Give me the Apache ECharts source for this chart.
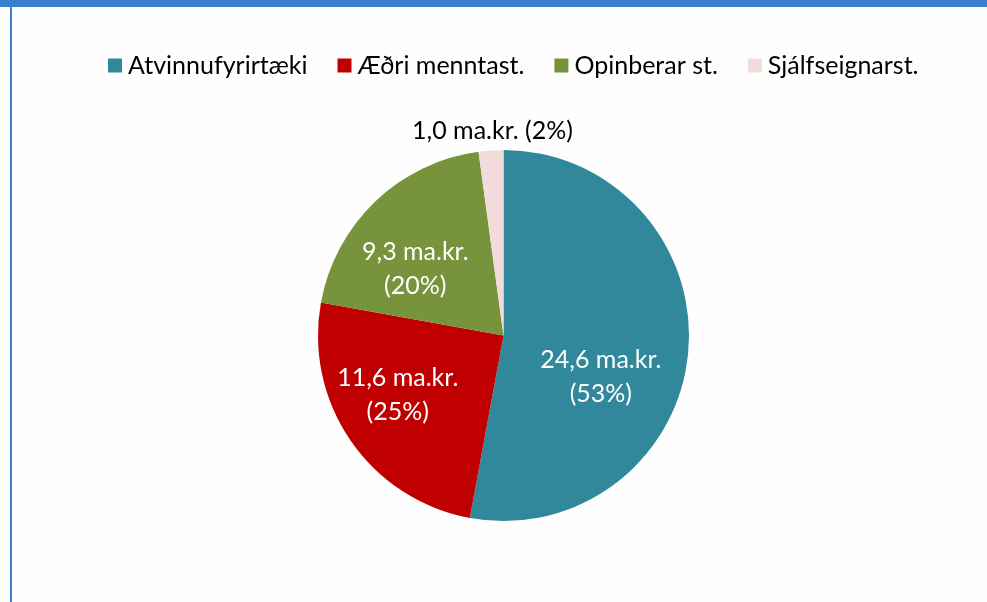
<!DOCTYPE html>
<html>
<head>
<meta charset="utf-8">
<script src="https://cdn.jsdelivr.net/npm/echarts@6/dist/echarts.min.js"></script>
<style>
html,body{margin:0;padding:0;background:#fefefe;}
#chart{width:987px;height:602px;}
</style>
</head>
<body>
<div id="chart"></div>
<script>
var categories = ['Atvinnufyrirtæki', 'Æðri menntast.', 'Opinberar st.', 'Sjálfseignarst.'];
var values = [24.6, 11.6, 9.3, 1.0];
var percents = [53, 25, 20, 2];
var colors = ['#31889B', '#C00000', '#77933C', '#F2DCDB'];

var FONT = 'Lato';
var labelShift = [[2, 33], [-27, 5], [-22, 3], [118, -5]];

var chart = echarts.init(document.getElementById('chart'), null, {renderer: 'canvas'});
var data = categories.map(function (c, i) {
  var isOutside = i === 3;
  return {
    name: c,
    value: values[i],
    itemStyle: {color: colors[i]},
    label: {
      position: isOutside ? 'outside' : 'inside',
      color: isOutside ? '#000' : '#fff',
      formatter: isOutside
        ? values[i].toFixed(1).replace('.', ',') + ' ma.kr. (' + percents[i] + '%)'
        : values[i].toFixed(1).replace('.', ',') + ' ma.kr.\n(' + percents[i] + '%)'
    },
    labelLine: {show: false}
  };
});

chart.setOption({
  backgroundColor: '#fefefe',
  animation: false,
  graphic: [
    {type: 'rect', shape: {x: 0, y: 0, width: 987, height: 7}, style: {fill: '#3A7FD0'}},
    {type: 'rect', shape: {x: 10, y: 0, width: 2, height: 602}, style: {fill: '#3A7FD0'}}
  ],
  legend: {
    top: 48,
    left: 103,
    itemWidth: 14,
    itemHeight: 14,
    itemGap: 30,
    icon: 'rect',
    textStyle: {fontFamily: FONT, fontSize: 25, color: '#000', padding: [0, 0, 0, 1]},
    data: categories
  },
  series: [{
    type: 'pie',
    center: [503.5, 335.5],
    radius: ['0%', 185.5],
    startAngle: 90,
    clockwise: true,
    data: data,
    label: {
      show: true,
      fontFamily: FONT,
      fontSize: 25,
      lineHeight: 34,
      align: 'center'
    },
    labelLine: {show: false},
    labelLayout: function (params) {
      var s = labelShift[params.dataIndex];
      return {dx: s[0], dy: s[1]};
    },
    emphasis: {disabled: true}
  }]
});
</script>
</body>
</html>
